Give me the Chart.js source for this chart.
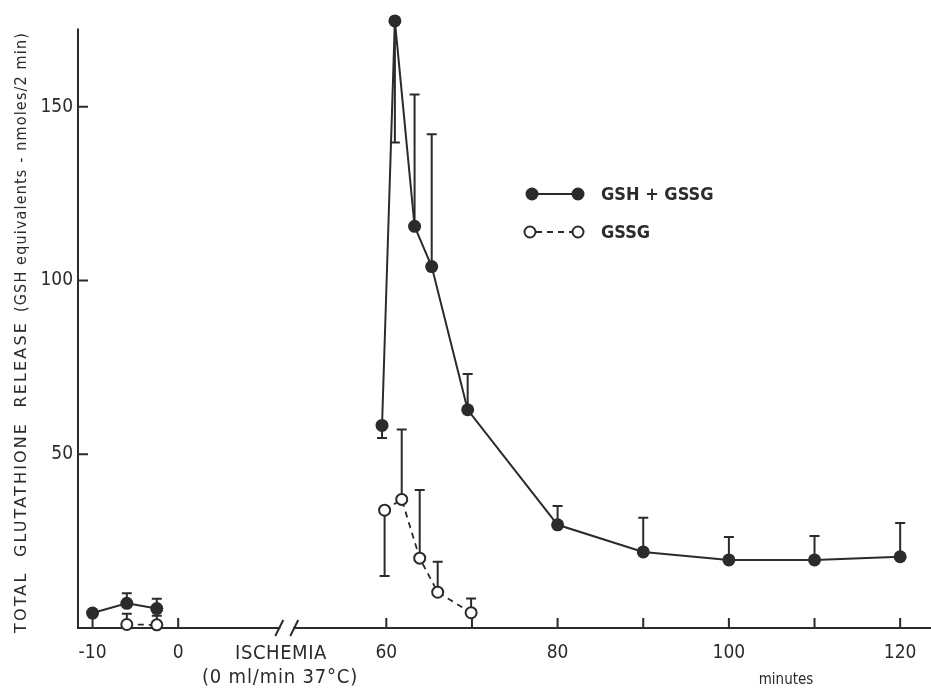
<!DOCTYPE html>
<html>
<head>
<meta charset="utf-8">
<title>Total glutathione release</title>
<script src="https://cdn.jsdelivr.net/npm/chart.js@4.4.1/dist/chart.umd.min.js"></script>
<style>
  html, body { margin: 0; padding: 0; background: #fff; }
  #wrap { width: 931px; height: 689px; }
</style>
</head>
<body>
<div id="wrap"><canvas id="glutChart"></canvas></div>
<script>
// sampling times in minutes (before ischemia / reperfusion)
var gshTime   = [-10, -6, -2.5, 59.5, 61, 63.3, 65.3, 69.5, 80, 90, 100, 110, 120];
var gshValue  = [4.3, 7.1, 5.6, 58.3, 174.7, 115.6, 104.0, 62.8, 29.7, 21.9, 19.6, 19.6, 20.5];
var gshErrEnd = [null, 10.0, 8.4, 54.7, 139.7, 153.5, 142.1, 73.1, 35.1, 31.7, 26.2, 26.5, 30.2];

var gssgTime   = [-6, -2.5, 59.8, 61.8, 63.9, 66, 69.9];
var gssgValue  = [1.0, 0.9, 33.9, 37.0, 20.1, 10.3, 4.4];
var gssgErrEnd = [4.1, 3.5, 15.0, 57.1, 39.7, 19.1, 8.5];

var xTickLabels = [-10, 0, 60, 80, 100, 120];
var xTickMarks  = [-10, 0, 60, 70, 80, 90, 100, 110, 120];
var yTickLabels = [50, 100, 150];
var yAxisTop = 172.5;

var INK = '#2b2b2b';
var FONT = '"DejaVu Sans Condensed", "DejaVu Sans", sans-serif';

// the ischemia period (0..60 min) is squeezed into a short gap on the axis
var GAP = 24.3;
function toAxis(t) { return t < 30 ? t : t - 60 + GAP; }
function fromAxis(u) { return u < GAP / 2 ? u : u - GAP + 60; }

function buildSeries(times, vals) {
    var pts = [];
    for (var i = 0; i < times.length; i++) {
        if (i > 0 && times[i - 1] < 30 && times[i] >= 30) {
            pts.push({ x: GAP / 2, y: null }); // break the line over the gap
        }
        pts.push({ x: toAxis(times[i]), y: vals[i] });
    }
    return pts;
}

// text squeezed/stretched to a given length
function fitText(ctx, text, x, y, size, family, target) {
    ctx.font = size + 'px ' + family;
    var w = ctx.measureText(text).width;
    var sp = (target - w) / text.length;
    ctx.letterSpacing = sp.toFixed(2) + 'px';
    ctx.fillText(text, x, y);
    ctx.letterSpacing = '0px';
}

// one sided error bars
var errorBars = {
    id: 'errorBars',
    beforeDatasetsDraw: function(chart) {
        var ctx = chart.ctx, xs = chart.scales.x, ys = chart.scales.y;
        var sets = [[gshTime, gshValue, gshErrEnd], [gssgTime, gssgValue, gssgErrEnd]];
        ctx.save();
        ctx.strokeStyle = INK;
        ctx.lineWidth = 2;
        sets.forEach(function(s) {
            for (var i = 0; i < s[0].length; i++) {
                if (s[2][i] == null) continue;
                var px = xs.getPixelForValue(toAxis(s[0][i]));
                var y0 = ys.getPixelForValue(s[1][i]);
                var y1 = ys.getPixelForValue(s[2][i]);
                ctx.beginPath();
                ctx.moveTo(px, y0); ctx.lineTo(px, y1);
                ctx.moveTo(px - 5, y1); ctx.lineTo(px + 5, y1);
                ctx.stroke();
            }
        });
        ctx.restore();
    }
};

var decorations = {
    id: 'decorations',
    afterDraw: function(chart) {
        var ctx = chart.ctx, xs = chart.scales.x, ys = chart.scales.y;
        var area = chart.chartArea;
        ctx.save();
        ctx.strokeStyle = INK;
        ctx.fillStyle = INK;
        ctx.lineWidth = 2;

        // y axis line and inward tick marks
        ctx.beginPath();
        ctx.moveTo(area.left, ys.getPixelForValue(yAxisTop));
        ctx.lineTo(area.left, area.bottom + 1);
        xTickMarks.forEach(function(t) {
            var px = xs.getPixelForValue(toAxis(t));
            ctx.moveTo(px, area.bottom); ctx.lineTo(px, area.bottom - 10);
        });
        yTickLabels.forEach(function(v) {
            var py = ys.getPixelForValue(v);
            ctx.moveTo(area.left, py); ctx.lineTo(area.left + 10, py);
        });
        ctx.stroke();

        // axis break
        var bx = xs.getPixelForValue(GAP / 2) + 4;
        ctx.fillStyle = '#fff';
        ctx.fillRect(bx - 6, area.bottom - 3, 13, 6);
        ctx.beginPath();
        ctx.moveTo(bx - 11, area.bottom + 8); ctx.lineTo(bx - 3, area.bottom - 8);
        ctx.moveTo(bx + 4, area.bottom + 8); ctx.lineTo(bx + 12, area.bottom - 8);
        ctx.stroke();

        // texts under the axis
        ctx.fillStyle = INK;
        ctx.textAlign = 'left';
        ctx.textBaseline = 'alphabetic';
        fitText(ctx, 'ISCHEMIA', 235, 659, 20, FONT, 92);
        fitText(ctx, '(0 ml/min 37\u00B0C)', 202, 683, 20, FONT, 156);
        ctx.textAlign = 'center';
        ctx.font = '15px ' + FONT;
        ctx.fillText('minutes', 786, 684);

        // y axis title
        ctx.save();
        ctx.translate(22, 633);
        ctx.rotate(-Math.PI / 2);
        ctx.textAlign = 'left';
        ctx.textBaseline = 'middle';
        fitText(ctx, 'TOTAL  GLUTATHIONE  RELEASE', 0, 0, 16, '"DejaVu Sans", sans-serif', 312);
        fitText(ctx, '(GSH equivalents - nmoles/2 min)', 321, 0, 16, FONT, 280);
        ctx.restore();

        // legend
        ctx.lineWidth = 2;
        ctx.beginPath();
        ctx.moveTo(532, 194); ctx.lineTo(578, 194);
        ctx.stroke();
        [532, 578].forEach(function(x) {
            ctx.beginPath(); ctx.arc(x, 194, 6.5, 0, Math.PI * 2); ctx.fill();
        });
        ctx.setLineDash([6, 5]);
        ctx.beginPath();
        ctx.moveTo(536, 232); ctx.lineTo(572, 232);
        ctx.stroke();
        ctx.setLineDash([]);
        [530, 578].forEach(function(x) {
            ctx.beginPath(); ctx.arc(x, 232, 5.5, 0, Math.PI * 2);
            ctx.fillStyle = '#fff'; ctx.fill(); ctx.stroke();
        });
        ctx.fillStyle = INK;
        ctx.textAlign = 'left';
        ctx.textBaseline = 'middle';
        ctx.font = 'bold 18px ' + FONT;
        ctx.fillText('GSH + GSSG', 601, 195);
        ctx.fillText('GSSG', 601, 233);
        ctx.restore();
    }
};

var ctx = document.getElementById('glutChart').getContext('2d');
var chart = new Chart(ctx, {
    type: 'line',
    data: {
        datasets: [
            {
                label: 'GSH + GSSG',
                data: buildSeries(gshTime, gshValue),
                borderColor: INK,
                borderWidth: 2,
                backgroundColor: INK,
                pointRadius: 6.5,
                pointBorderWidth: 0,
                spanGaps: false,
                clip: false,
                tension: 0
            },
            {
                label: 'GSSG',
                data: buildSeries(gssgTime, gssgValue),
                borderColor: INK,
                borderWidth: 1.8,
                borderDash: [6, 5],
                backgroundColor: '#fff',
                pointBorderColor: INK,
                pointBackgroundColor: '#fff',
                pointRadius: 5.5,
                pointBorderWidth: 2,
                spanGaps: false,
                clip: false,
                tension: 0
            }
        ]
    },
    options: {
        responsive: true,
        maintainAspectRatio: false,
        animation: false,
        layout: { autoPadding: false, padding: { top: 13.5, right: 0, left: 0, bottom: 0 } },
        plugins: {
            legend: { display: false },
            tooltip: { enabled: false }
        },
        scales: {
            x: {
                type: 'linear',
                min: -11.7,
                max: 87.9,
                afterBuildTicks: function(scale) {
                    scale.ticks = xTickLabels.map(function(t) { return { value: toAxis(t) }; });
                },
                afterFit: function(scale) {
                    scale.height = 61;
                    scale.paddingRight = 0;
                    scale.paddingLeft = 0;
                },
                ticks: {
                    autoSkip: false,
                    maxRotation: 0,
                    padding: 14,
                    color: INK,
                    font: { family: FONT, size: 19 },
                    callback: function(v) { return Math.round(fromAxis(v)); }
                },
                grid: { display: false, drawTicks: false },
                border: { display: true, color: INK, width: 2 }
            },
            y: {
                min: 0,
                max: 176,
                afterBuildTicks: function(scale) {
                    scale.ticks = yTickLabels.map(function(v) { return { value: v }; });
                },
                afterFit: function(scale) { scale.width = 78; },
                ticks: {
                    padding: 5,
                    color: INK,
                    font: { family: FONT, size: 19 }
                },
                grid: { display: false, drawTicks: false },
                border: { display: false }
            }
        }
    },
    plugins: [errorBars, decorations]
});
</script>
</body>
</html>
